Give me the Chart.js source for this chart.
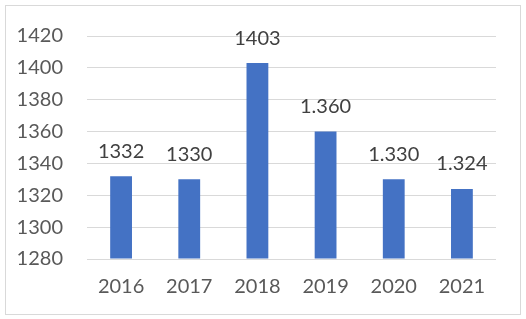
<!DOCTYPE html>
<html>
<head>
<meta charset="utf-8">
<script src="https://cdn.jsdelivr.net/npm/chart.js@4"></script>
<style>
  html, body { margin: 0; padding: 0; background: #fff; }
  #wrap { width: 526px; height: 319px; }
</style>
</head>
<body>
<div id="wrap"><canvas id="myChart" width="526" height="319"></canvas></div>
<script>
// data
const years = ["2016", "2017", "2018", "2019", "2020", "2021"];
const values = [1332, 1330, 1403, 1360, 1330, 1324];
const valueLabels = ["1332", "1330", "1403", "1.360", "1.330", "1.324"];
const yMin = 1280, yMax = 1420, yStep = 20;

// frame round the chart
const framePlugin = {
    id: 'frame',
    beforeDraw: (chart) => {
        const c = chart.ctx;
        c.save();
        c.fillStyle = '#ffffff';
        c.fillRect(0, 0, chart.width, chart.height);
        c.strokeStyle = '#d9d9d9';
        c.lineWidth = 1;
        c.strokeRect(5.5, 5.5, 515, 309);
        c.restore();
    }
};

// value labels above the bars
const labelPlugin = {
    id: 'valueLabels',
    afterDatasetsDraw: (chart) => {
        const c = chart.ctx;
        const meta = chart.getDatasetMeta(0);
        c.save();
        c.font = '20px Lato';
        c.fillStyle = '#404040';
        c.textAlign = 'center';
        c.textBaseline = 'middle';
        meta.data.forEach((bar, i) => {
            c.fillText(valueLabels[i], bar.x, bar.y - 25);
        });
        c.restore();
    }
};

let newChart = () => {
    const ctx = document.getElementById('myChart').getContext('2d');
    new Chart(ctx, {
        type: 'bar',
        data: {
            labels: years,
            datasets: [{
                data: values,
                backgroundColor: '#4472c4',
                categoryPercentage: 1,
                barPercentage: 0.32,
                base: yMin
            }]
        },
        options: {
            responsive: false,
            animation: false,
            layout: { padding: { left: 10, right: 30, top: 32, bottom: 0 } },
            plugins: { legend: { display: false }, tooltip: { enabled: false } },
            scales: {
                x: {
                    grid: { display: false, drawTicks: false },
                    border: { display: false },
                    ticks: { color: '#595959', font: { family: 'Lato', size: 20 }, padding: 16 },
                    afterFit: (s) => { s.height = 60; }
                },
                y: {
                    min: yMin,
                    max: yMax,
                    grid: { color: '#d9d9d9', lineWidth: 1, drawTicks: false },
                    border: { display: false },
                    ticks: {
                        stepSize: yStep,
                        color: '#595959',
                        font: { family: 'Lato', size: 20 },
                        padding: 24,
                        callback: (v) => String(v)
                    },
                    afterFit: (s) => { s.width = 77; }
                }
            }
        },
        plugins: [framePlugin, labelPlugin]
    });
};

newChart();
</script>
</body>
</html>
